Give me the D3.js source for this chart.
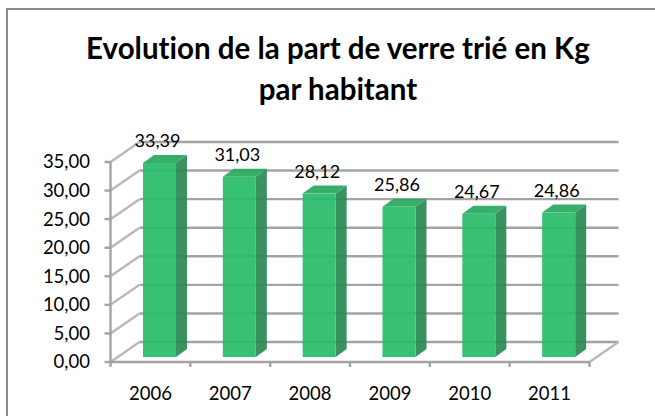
<!DOCTYPE html>
<html lang='fr'>
<head>
	<meta charset='UTF-8'>
	<title>Verre trié</title>
	<style>
		body { margin: 0; background: #fff; }
		svg { display: block; font-family: Lato, 'Open Sans', sans-serif; font-variant-ligatures: none; font-feature-settings: 'liga' 0; }
	</style>
</head>
<body>

<svg></svg>

<script src='https://d3js.org/d3.v7.min.js'></script>
<script>
// data
const years = ['2006', '2007', '2008', '2009', '2010', '2011']
const values = [33.39, 31.03, 28.12, 25.86, 24.67, 24.86]
const yTicks = [0, 5, 10, 15, 20, 25, 30, 35]
const titleLines = ['Evolution de la part de verre trié en Kg', 'par habitant']

const width = 655
const height = 416

// fake 3d: offset of the back wall and of a bar's depth
const wallDx = 29, wallDy = -20
const barDx = 11, barDy = -8
const barOffset = 32.5, barWidth = 33

const fr = d3.formatLocale({ decimal: ',', thousands: ' ', grouping: [3], currency: ['', ' €'] })
const fmt = fr.format('.2f')

const svg = d3.select('svg')
	.attr('width', width)
	.attr('height', height)

const x = d3.scaleBand()
	.domain(years)
	.range([110.5, 589.5])

const yWall = d3.scaleLinear()
	.domain([0, 35])
	.range([362, 162])

const yBar = d3.scaleLinear()
	.domain([0, 35])
	.range([357, 357 - 35 * 5.81])

// chart border
svg.append('rect')
	.attr('x', 7).attr('y', 9)
	.attr('width', 700).attr('height', 450)
	.attr('fill', 'none')
	.attr('stroke', '#8c8c8c')
	.attr('stroke-width', 2)

// title
svg.append('text')
	.attr('x', 338)
	.attr('text-anchor', 'middle')
	.attr('font-weight', 'bold')
	.attr('font-size', 29.5)
	.attr('fill', '#000')
	.selectAll('tspan')
	.data(titleLines)
	.join('tspan')
	.attr('x', 338)
	.attr('y', (d, i) => 59 + i * 41)
	.text(d => d)

const x0 = x.range()[0], x1 = x.range()[1]
const grid = svg.append('g')
	.attr('stroke', '#a3a3a3')
	.attr('stroke-width', 2.4)
	.attr('fill', 'none')

// back wall gridlines
grid.selectAll('line.back')
	.data(yTicks)
	.join('line')
	.attr('class', 'back')
	.attr('x1', x0 + wallDx).attr('x2', x1 + wallDx)
	.attr('y1', d => yWall(d) + wallDy).attr('y2', d => yWall(d) + wallDy)

// side wall diagonals
grid.selectAll('line.side')
	.data(yTicks)
	.join('line')
	.attr('class', 'side')
	.attr('stroke', '#b8b8b8')
	.attr('x1', x0).attr('x2', x0 + wallDx)
	.attr('y1', d => yWall(d)).attr('y2', d => yWall(d) + wallDy)

// floor right edge
grid.append('line')
	.attr('stroke', '#b8b8b8')
	.attr('x1', x1).attr('y1', yWall(0))
	.attr('x2', x1 + wallDx).attr('y2', yWall(0) + wallDy)

// bars
const bars = svg.append('g')
	.selectAll('g')
	.data(years.map((y, i) => ({ year: y, value: values[i] })))
	.join('g')
	.attr('opacity', 0.93)

const bx = d => x(d.year) + barOffset

bars.append('path')
	.attr('fill', '#2b8a55')
	.attr('d', d => {
		const l = bx(d) + barWidth, t = yBar(d.value), b = yBar(0)
		return `M${l},${t}L${l + barDx},${t + barDy}L${l + barDx},${b + barDy}L${l},${b}Z`
	})

bars.append('path')
	.attr('fill', '#28a85f')
	.attr('d', d => {
		const l = bx(d), t = yBar(d.value)
		return `M${l},${t}L${l + barDx},${t + barDy}L${l + barWidth + barDx},${t + barDy}L${l + barWidth},${t}Z`
	})

bars.append('rect')
	.attr('fill', '#2abd6b')
	.attr('x', bx)
	.attr('y', d => yBar(d.value))
	.attr('width', barWidth)
	.attr('height', d => yBar(0) - yBar(d.value))

// value labels
svg.append('g')
	.attr('font-size', 18)
	.attr('text-anchor', 'middle')
	.selectAll('text')
	.data(years.map((y, i) => ({ year: y, value: values[i] })))
	.join('text')
	.attr('x', d => bx(d) + barWidth / 2 - 2)
	.attr('y', d => yBar(d.value) - 16)
	.text(d => fmt(d.value))

// front axes
const axes = svg.append('g')
	.attr('stroke', '#a3a3a3')
	.attr('stroke-width', 2.4)

axes.append('line')
	.attr('x1', x0).attr('x2', x0)
	.attr('y1', yWall(35)).attr('y2', yWall(0))

axes.append('line')
	.attr('x1', x0).attr('x2', x1)
	.attr('y1', yWall(0)).attr('y2', yWall(0))

axes.selectAll('line.ytick')
	.data(yTicks)
	.join('line')
	.attr('class', 'ytick')
	.attr('x1', x0 - 6).attr('x2', x0)
	.attr('y1', d => yWall(d)).attr('y2', d => yWall(d))

axes.selectAll('line.xtick')
	.data(years.concat(['end']))
	.join('line')
	.attr('class', 'xtick')
	.attr('x1', (d, i) => x0 + i * x.bandwidth())
	.attr('x2', (d, i) => x0 + i * x.bandwidth())
	.attr('y1', yWall(0)).attr('y2', yWall(0) + 5)

// tick labels
svg.append('g')
	.attr('font-size', 18.5)
	.attr('text-anchor', 'end')
	.selectAll('text')
	.data(yTicks)
	.join('text')
	.attr('x', 90)
	.attr('y', d => yWall(d))
	.attr('dy', '0.35em')
	.text(d => fmt(d))

svg.append('g')
	.attr('font-size', 18.5)
	.attr('text-anchor', 'middle')
	.selectAll('text')
	.data(years)
	.join('text')
	.attr('x', d => x(d) + x.bandwidth() / 2)
	.attr('y', 400)
	.text(d => d)
</script>
</body>
</html>
